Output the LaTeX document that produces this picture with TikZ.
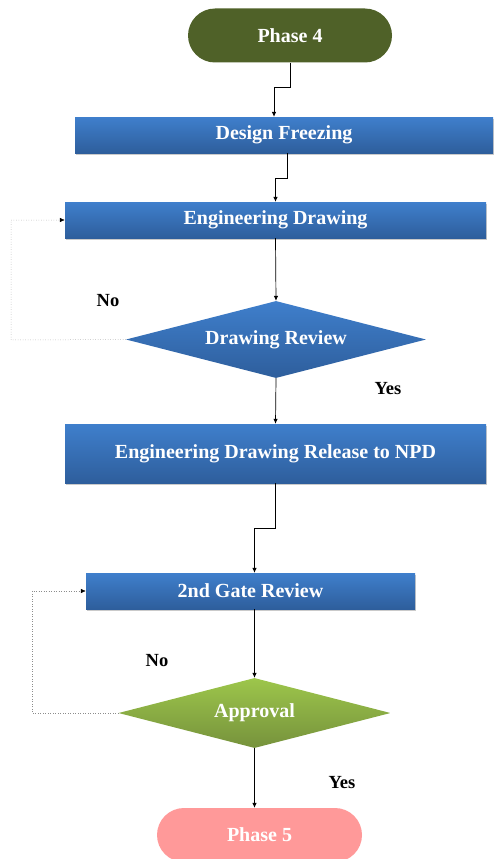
\documentclass[tikz,border=0pt]{standalone}
\usepackage{fontspec}
\setmainfont{Liberation Serif}
\usetikzlibrary{shapes.geometric,calc,shadows,arrows.meta}
\definecolor{boxtop}{HTML}{3F7FCC}
\definecolor{boxbot}{HTML}{2E5E9C}
\definecolor{greentop}{HTML}{9DC64B}
\definecolor{greenbot}{HTML}{76923C}
\definecolor{darkgreen}{HTML}{4F6128}
\definecolor{pink}{HTML}{FF9999}
\begin{document}
\begin{tikzpicture}[x=1pt,y=1pt,
  lbl/.style={font=\fontsize{20}{22}\selectfont\bfseries, text=white},
  bluebox/.style={rectangle, inner sep=0pt, top color=boxtop, bottom color=boxbot, draw=none, lbl,
     drop shadow={opacity=0.35, shadow xshift=1pt, shadow yshift=-1.5pt, fill=black!60}},
  terminal/.style={rectangle, rounded corners=27pt, inner sep=0pt, minimum height=54pt, draw=none, lbl},
  decision/.style={diamond, inner sep=0pt, draw=none, lbl, aspect=3.9},
  arr/.style={draw=black, line width=0.7pt, -{Latex[length=5pt,width=4.5pt]}},
  fb/.style={draw=black!45, line width=0.5pt, dotted, -{Latex[length=5pt,width=4.5pt,color=black]}},
  ans/.style={font=\fontsize{18.5}{20}\selectfont\bfseries, text=black}]
\useasboundingbox (0,0) rectangle (493,-859);

\node[terminal, fill=darkgreen, minimum width=204pt] (p4) at (290,-35.5) {Phase 4};
\node[bluebox, minimum width=418pt, minimum height=36pt] (df) at (284,-135) {Design Freezing};
\node[bluebox, minimum width=421pt, minimum height=36pt] (ed) at (275.5,-220) {Engineering Drawing};
\node[decision, top color=boxtop, bottom color=boxbot, minimum width=300pt, minimum height=77pt] (dr) at (276,-339.5) {Drawing Review};
\node[bluebox, minimum width=421pt, minimum height=59pt] (rel) at (275.5,-453.5) {Engineering Drawing Release to NPD};
\node[bluebox, minimum width=329pt, minimum height=36pt] (gate) at (250.5,-591) {2nd Gate Review};
\node[decision, top color=greentop, bottom color=greenbot, minimum width=272pt, minimum height=70pt] (ap) at (254.5,-713) {Approval};
\node[terminal, fill=pink, minimum width=205pt] (p5) at (259.5,-835) {Phase 5};

\coordinate (fbA) at (11,-340);
\coordinate (fbB) at (32,-713);

\draw[arr] (p4.south) -- ++(0,-25) -| ([xshift=-10pt]df.north);
\draw[arr] ([xshift=3pt]df.south) -- ++(0,-25) -| (ed.north);
\draw[arr] (ed.south) -- (dr.north);
\draw[arr] (dr.south) -- (rel.north);
\draw[arr] (rel.south) -- ++(0,-45) -| ([xshift=4pt]gate.north);
\draw[arr] (gate.south -| ap.north) -- (ap.north);
\draw[arr] (ap.south) -- (ap.south |- p5.north);

\draw[fb] (dr.west) -- (fbA) |- (ed.west);
\draw[fb] (ap.west) -- (fbB) |- (gate.west);

\node[ans] (no1) at (108,-301) {No};
\node[ans] (yes1) at (388,-389) {Yes};
\node[ans] (no2) at (157,-661) {No};
\node[ans] (yes2) at (342,-783) {Yes};
\end{tikzpicture}
\end{document}
